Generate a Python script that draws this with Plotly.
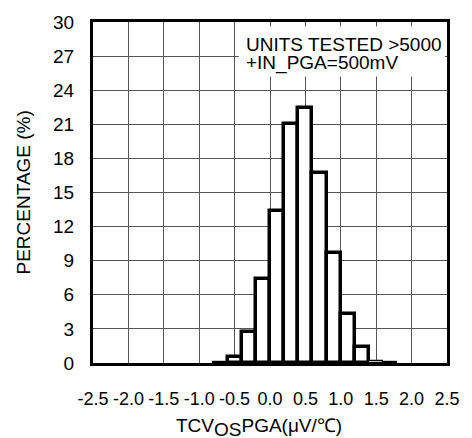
import plotly.graph_objects as go

# Histogram bins (centers, width 0.2 µV/℃) and percentages
bin_centers = [-0.7, -0.5, -0.3, -0.1, 0.1, 0.3, 0.5, 0.7, 0.9, 1.1, 1.3, 1.5, 1.7]
percentages = [0.05, 0.5, 2.7, 7.4, 13.4, 21.0, 22.4, 16.7, 9.7, 4.3, 1.4, 0.15, 0.05]
bin_width = 0.2

x_ticks = [-2.5, -2.0, -1.5, -1.0, -0.5, 0.0, 0.5, 1.0, 1.5, 2.0, 2.5]
y_ticks = [0, 3, 6, 9, 12, 15, 18, 21, 24, 27, 30]

FONT = "Liberation Sans, Arial, sans-serif"
FS = 19

line_widths = [3.5 if v >= 0.3 else 1.2 for v in percentages]

fig = go.Figure()
fig.add_trace(go.Bar(
    x=bin_centers, y=percentages, width=bin_width,
    marker=dict(color="white", line=dict(color="black", width=line_widths)),
    hoverinfo="skip", showlegend=False,
))

# White box behind the annotation text
fig.add_shape(type="rect", xref="x", yref="y", x0=-0.44, x1=2.47, y0=25.2, y1=29.6,
              fillcolor="white", line=dict(width=0), layer="above")
fig.add_annotation(xref="x", yref="y", x=-0.37, y=28.0, xanchor="left", yanchor="middle",
                   text="UNITS TESTED >5000", showarrow=False,
                   font=dict(family=FONT, size=FS, color="black"))
fig.add_annotation(xref="x", yref="y", x=-0.37, y=26.4, xanchor="left", yanchor="middle",
                   text="+IN_PGA=500mV", showarrow=False,
                   font=dict(family=FONT, size=FS, color="black"))

# Axis titles
fig.add_annotation(xref="paper", yref="paper", x=0, y=0.5, xshift=-70, xanchor="center",
                   yanchor="middle", textangle=-90, text="PERCENTAGE (%)", showarrow=False,
                   font=dict(family=FONT, size=FS, color="black"))
fig.add_annotation(xref="paper", yref="paper", x=0.47, y=0, yshift=-64, xanchor="center",
                   yanchor="middle",
                   text="TCV<sub><span style='font-size:19px'>OS</span></sub>PGA(μV/℃)",
                   showarrow=False, font=dict(family=FONT, size=FS, color="black"))

fig.update_xaxes(range=[-2.5, 2.5], tickvals=x_ticks,
                 ticktext=[f"{v:.1f}" for v in x_ticks],
                 showgrid=True, gridcolor="#555", gridwidth=1,
                 showline=True, linecolor="black", linewidth=3, mirror=True,
                 zeroline=False, ticks="", ticklabelstandoff=17,
                 tickfont=dict(family=FONT, size=18, color="black"))
fig.update_yaxes(range=[0, 30], tickvals=y_ticks,
                 showgrid=True, gridcolor="#555", gridwidth=1,
                 showline=True, linecolor="black", linewidth=3, mirror=True,
                 zeroline=False, ticks="", ticklabelstandoff=12,
                 tickfont=dict(family=FONT, size=FS, color="black"))

fig.update_layout(
    width=472, height=438,
    margin=dict(l=93, r=19, t=20, b=75),
    plot_bgcolor="white", paper_bgcolor="white",
    bargap=0,
    font=dict(family=FONT, size=FS, color="black"),
)

fig.write_html("out.html", config={"displayModeBar": False},
               post_script="document.body.style.margin='0';document.body.style.overflow='hidden';")
